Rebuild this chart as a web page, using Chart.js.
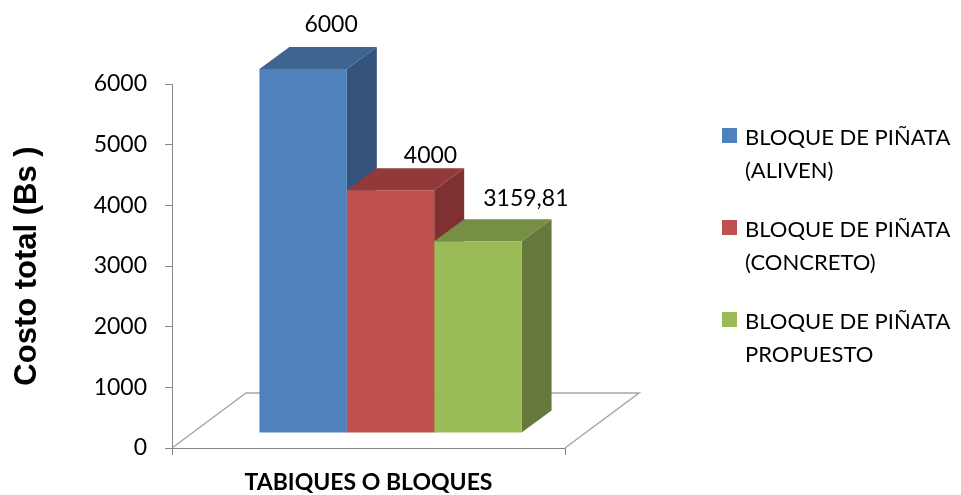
<!DOCTYPE html>
<html>
<head>
<meta charset="utf-8">
<script src="https://cdn.jsdelivr.net/npm/chart.js@4.4.0/dist/chart.umd.min.js"></script>
<style>
    html, body { margin: 0; padding: 0; background: #fff; }
    #wrap { width: 961px; height: 495px; }
</style>
</head>
<body>
<div id="wrap"><canvas id="costChart"></canvas></div>
<script>
// Data
const categories = ['TABIQUES O BLOQUES'];
const seriesNames = ['BLOQUE DE PIÑATA (ALIVEN)', 'BLOQUE DE PIÑATA (CONCRETO)', 'BLOQUE DE PIÑATA PROPUESTO'];
const alivenValues = [6000];
const concretoValues = [4000];
const propuestoValues = [3159.81];
const yTicks = [0, 1000, 2000, 3000, 4000, 5000, 6000];
const yTitle = 'Costo total (Bs )';

// Styles: front, top, side colour per series
const faceColors = [
    ['#4F81BD', '#3E6491', '#34547B'],
    ['#C0504D', '#923A39', '#7E3130'],
    ['#9BBB59', '#778F44', '#65793A']
];
const axisGray = '#868686';
const floorGray = '#A6A6A6';
const bodyFont = 'Lato, "Open Sans", sans-serif';

// 3D offsets (pixels)
const frontShift = { dx: 22, dy: -15 };
const barDepth = { dx: 30, dy: -22 };
const floorDepth = { dx: 74, dy: -55 };
const labelNudge = [[-2, -22], [10, -13], [18, -21]];

function formatValue(v) {
    return String(v).replace('.', ',');
}

function wrapText(ctx, text, maxWidth) {
    const words = text.split(' ');
    const lines = [];
    let line = '';
    words.forEach(w => {
        const test = line ? line + ' ' + w : w;
        if (ctx.measureText(test).width > maxWidth && line) {
            lines.push(line);
            line = w;
        } else {
            line = test;
        }
    });
    if (line) lines.push(line);
    return lines;
}

const bar3d = {
    id: 'bar3d',
    beforeDatasetsDraw(chart) {
        const ctx = chart.ctx;
        const area = chart.chartArea;

        // floor
        ctx.save();
        ctx.strokeStyle = floorGray;
        ctx.lineWidth = 1.5;
        ctx.beginPath();
        ctx.moveTo(area.left, area.bottom);
        ctx.lineTo(area.left + floorDepth.dx, area.bottom + floorDepth.dy);
        ctx.lineTo(area.right + floorDepth.dx, area.bottom + floorDepth.dy);
        ctx.lineTo(area.right, area.bottom);
        ctx.stroke();
        ctx.restore();

        // side and top faces, left to right
        chart.data.datasets.forEach((ds, i) => {
            const el = chart.getDatasetMeta(i).data[0];
            const x1 = el.x - el.width / 2 + frontShift.dx;
            const x2 = el.x + el.width / 2 + frontShift.dx;
            const yt = el.y + frontShift.dy;
            const yb = el.base + frontShift.dy;
            const { dx, dy } = barDepth;

            ctx.fillStyle = faceColors[i][2];
            ctx.beginPath();
            ctx.moveTo(x2, yt);
            ctx.lineTo(x2 + dx, yt + dy);
            ctx.lineTo(x2 + dx, yb + dy);
            ctx.lineTo(x2, yb);
            ctx.closePath();
            ctx.fill();

            ctx.fillStyle = faceColors[i][1];
            ctx.beginPath();
            ctx.moveTo(x1, yt);
            ctx.lineTo(x1 + dx, yt + dy);
            ctx.lineTo(x2 + dx, yt + dy);
            ctx.lineTo(x2, yt);
            ctx.closePath();
            ctx.fill();
        });

        // front faces are drawn by Chart.js, shifted into the depth
        ctx.save();
        ctx.translate(frontShift.dx, frontShift.dy);
    },
    afterDatasetsDraw(chart) {
        const ctx = chart.ctx;
        ctx.restore();

        // value labels
        ctx.save();
        ctx.fillStyle = '#000';
        ctx.font = '23px ' + bodyFont;
        ctx.textAlign = 'center';
        ctx.textBaseline = 'middle';
        chart.data.datasets.forEach((ds, i) => {
            const el = chart.getDatasetMeta(i).data[0];
            const cx = el.x + frontShift.dx + barDepth.dx;
            const cy = el.y + frontShift.dy + barDepth.dy;
            ctx.fillText(formatValue(ds.data[0]), cx + labelNudge[i][0], cy + labelNudge[i][1]);
        });
        ctx.restore();

        // legend
        ctx.save();
        ctx.font = '22px ' + bodyFont;
        ctx.textAlign = 'left';
        ctx.textBaseline = 'alphabetic';
        chart.data.datasets.forEach((ds, i) => {
            const base = 145 + i * 92;
            ctx.fillStyle = faceColors[i][0];
            ctx.fillRect(722, base - 17, 15, 15);
            ctx.fillStyle = '#000';
            wrapText(ctx, ds.label, 215).forEach((line, j) => {
                ctx.fillText(line, 745, base + j * 33);
            });
        });
        ctx.restore();
    }
};

const costCtx = document.getElementById('costChart').getContext('2d');
new Chart(costCtx, {
    type: 'bar',
    data: {
        labels: categories,
        datasets: [
            { label: seriesNames[0], data: alivenValues, backgroundColor: faceColors[0][0] },
            { label: seriesNames[1], data: concretoValues, backgroundColor: faceColors[1][0] },
            { label: seriesNames[2], data: propuestoValues, backgroundColor: faceColors[2][0] }
        ]
    },
    options: {
        responsive: true,
        maintainAspectRatio: false,
        animation: false,
        layout: {
            padding: { top: 84, right: 396, bottom: 0, left: 0 }
        },
        datasets: {
            bar: {
                categoryPercentage: 0.667,
                barPercentage: 1,
                clip: false,
                borderWidth: 0
            }
        },
        plugins: {
            legend: { display: false },
            tooltip: { enabled: false }
        },
        scales: {
            x: {
                afterFit(scale) { scale.height = 47; },
                grid: {
                    drawOnChartArea: false,
                    tickLength: 7,
                    color: axisGray
                },
                border: { color: axisGray },
                ticks: {
                    color: '#000',
                    padding: 14,
                    font: { family: bodyFont, size: 23, weight: 'bold' }
                }
            },
            y: {
                min: yTicks[0],
                max: yTicks[yTicks.length - 1],
                afterFit(scale) { scale.width = 172; },
                grid: {
                    drawOnChartArea: false,
                    tickLength: 7,
                    color: axisGray
                },
                border: { color: axisGray },
                ticks: {
                    stepSize: yTicks[1] - yTicks[0],
                    color: '#000',
                    padding: 18,
                    font: { family: bodyFont, size: 23 },
                    callback: value => String(value)
                },
                title: {
                    display: true,
                    text: yTitle,
                    color: '#000',
                    padding: { top: 9, bottom: 0 },
                    font: { family: '"Liberation Sans", Arial, sans-serif', size: 31, weight: 'bold', lineHeight: 1.2 }
                }
            }
        }
    },
    plugins: [bar3d]
});
</script>
</body>
</html>
